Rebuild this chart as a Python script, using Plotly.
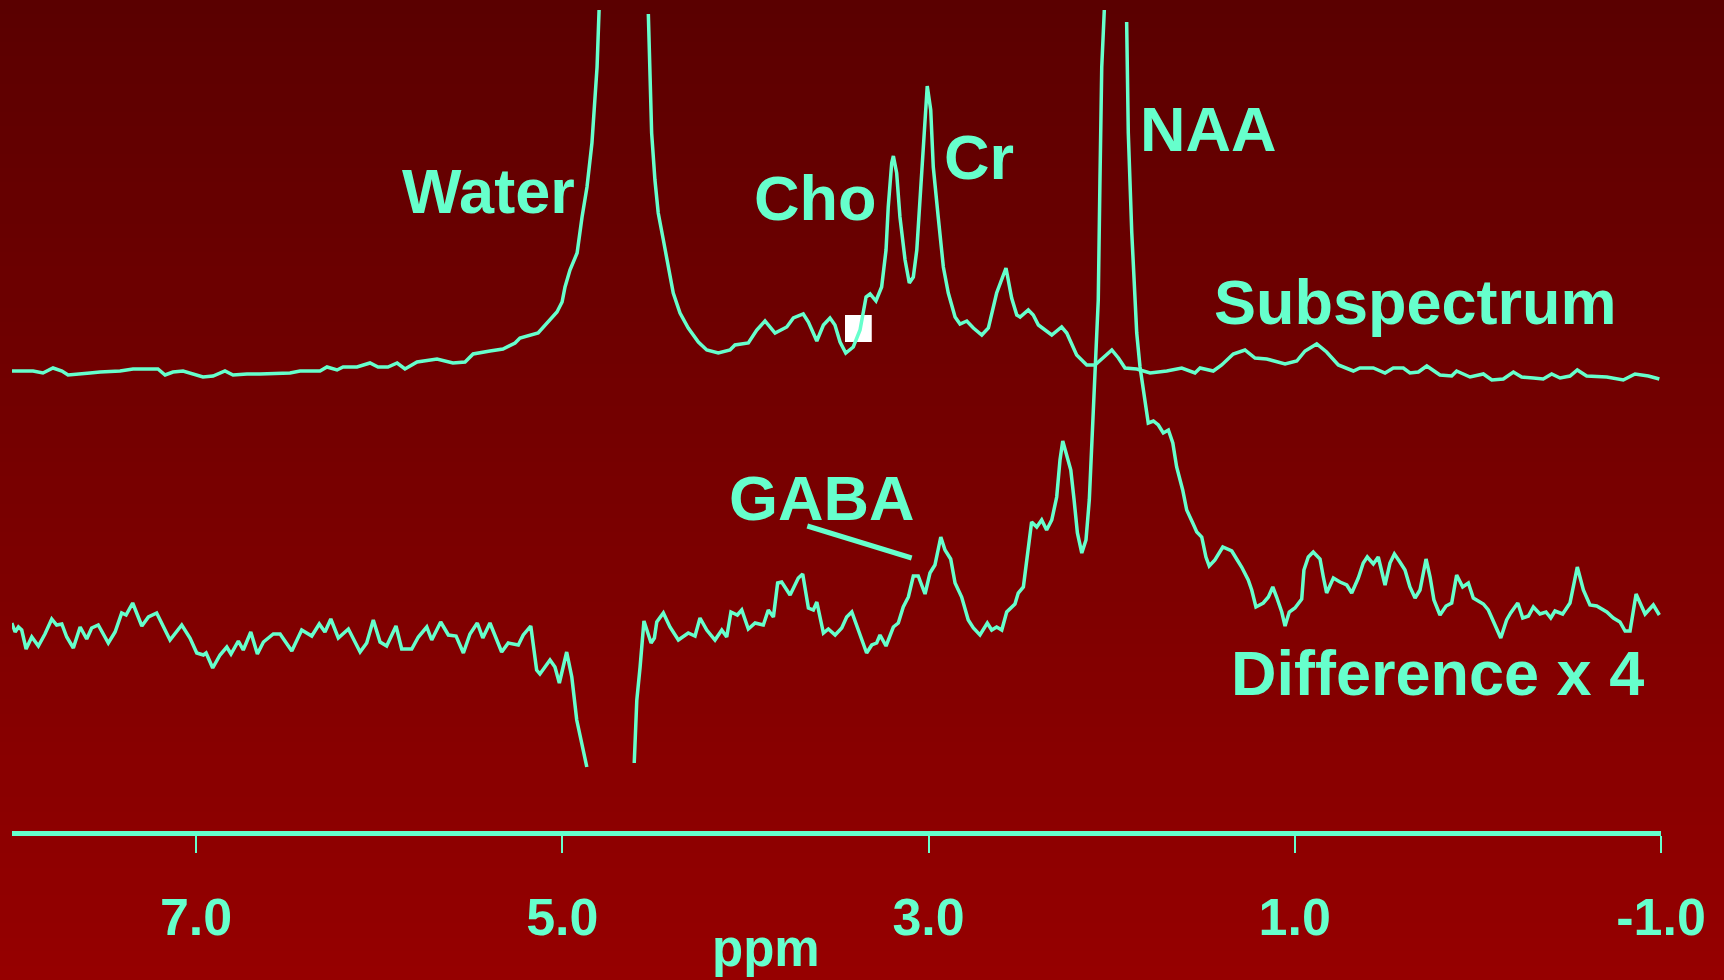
import plotly.graph_objects as go

# ---------------- data (ppm, amplitude in arbitrary units) ----------------
subspectrum_points = [
    (8.006, 0.1), (7.890, 0.1), (7.836, -0.1), (7.781, 0.4), (7.732, 0.1), (7.699, -0.3),
    (7.579, -0.1), (7.524, 0.0), (7.415, 0.1), (7.344, 0.3), (7.268, 0.3), (7.208, 0.3),
    (7.169, -0.3), (7.126, 0.0), (7.071, 0.1), (7.022, -0.2), (6.962, -0.5), (6.907, -0.4),
    (6.842, 0.1), (6.798, -0.3), (6.722, -0.2), (6.651, -0.2), (6.558, -0.1), (6.487, -0.1),
    (6.432, 0.1), (6.323, 0.1), (6.285, 0.5), (6.230, 0.2), (6.197, 0.5), (6.121, 0.5),
    (6.050, 0.9), (6.006, 0.5), (5.952, 0.5), (5.902, 0.9), (5.859, 0.3), (5.793, 1.0),
    (5.684, 1.3), (5.597, 0.9), (5.531, 1.0), (5.487, 1.8), (5.395, 2.1), (5.324, 2.3),
    (5.258, 2.9), (5.231, 3.4), (5.132, 3.9), (5.083, 4.9), (5.029, 6.0), (5.001, 7.0),
    (4.985, 8.5), (4.958, 10.2), (4.919, 11.9), (4.892, 15.5), (4.865, 18.5), (4.838, 22.9),
    (4.821, 27.2), (4.810, 30.5), (4.799, 36.2), (4.665, None),
    (4.530, 35.8), (4.521, 30.5), (4.512, 23.9), (4.494, 19.2), (4.476, 15.9), (4.448, 13.2),
    (4.421, 10.5), (4.394, 7.9), (4.357, 5.9), (4.312, 4.4), (4.257, 3.0), (4.211, 2.2),
    (4.148, 1.9), (4.084, 2.2), (4.057, 2.7), (3.984, 2.9), (3.938, 4.2), (3.893, 5.1),
    (3.838, 3.9), (3.774, 4.5), (3.738, 5.4), (3.684, 5.8), (3.656, 5.0), (3.610, 3.1),
    (3.574, 4.7), (3.538, 5.4), (3.511, 4.7), (3.483, 3.0), (3.452, 1.9), (3.411, 2.5),
    (3.374, 4.2), (3.341, 7.5), (3.319, 7.8), (3.287, 7.1), (3.256, 8.5), (3.232, 12.2),
    (3.220, 16.5), (3.201, 20.9), (3.192, 21.6), (3.174, 19.9), (3.156, 15.5), (3.128, 11.2),
    (3.105, 8.9), (3.083, 9.5), (3.064, 12.2), (3.043, 18.5), (3.025, 24.5), (3.007, 28.6),
    (2.988, 26.2), (2.974, 20.5), (2.947, 15.5), (2.919, 10.5), (2.892, 7.9), (2.855, 5.5),
    (2.828, 4.8), (2.791, 5.1), (2.755, 4.4), (2.709, 3.7), (2.673, 4.4), (2.628, 7.9),
    (2.577, 10.4), (2.546, 7.4), (2.518, 5.7), (2.500, 5.5), (2.455, 6.2), (2.428, 5.7),
    (2.400, 4.7), (2.327, 3.7), (2.273, 4.5), (2.245, 3.9), (2.191, 1.7), (2.136, 0.7),
    (2.091, 0.7), (2.045, 1.4), (1.999, 2.2), (1.963, 1.4), (1.927, 0.4), (1.863, 0.3),
    (1.790, -0.1), (1.699, 0.1), (1.617, 0.4), (1.545, -0.1), (1.517, 0.4), (1.445, 0.1),
    (1.399, 0.7), (1.336, 1.8), (1.272, 2.2), (1.217, 1.4), (1.153, 1.3), (1.053, 0.8),
    (0.989, 1.1), (0.944, 2.1), (0.880, 2.8), (0.826, 2.0), (0.762, 0.7), (0.680, 0.1),
    (0.644, 0.4), (0.571, 0.4), (0.507, -0.1), (0.462, 0.4), (0.407, 0.4), (0.371, -0.1),
    (0.325, 0.0), (0.279, 0.6), (0.207, -0.3), (0.143, -0.4), (0.116, 0.1), (0.043, -0.5),
    (-0.030, -0.2), (-0.076, -0.8), (-0.139, -0.7), (-0.194, 0.0), (-0.239, -0.5), (-0.303, -0.6),
    (-0.357, -0.7), (-0.403, -0.2), (-0.449, -0.6), (-0.503, -0.4), (-0.543, 0.2), (-0.594, -0.4),
    (-0.704, -0.5), (-0.794, -0.8), (-0.858, -0.2), (-0.931, -0.4), (-0.991, -0.7),
]

difference_points = [
    (8.006, 0.9), (7.988, 0.0), (7.970, 0.5), (7.952, 0.2), (7.928, -1.7), (7.897, -0.5),
    (7.861, -1.4), (7.825, -0.2), (7.788, 1.3), (7.761, 0.7), (7.733, 0.8), (7.706, -0.5),
    (7.670, -1.6), (7.633, 0.5), (7.597, -0.7), (7.570, 0.4), (7.534, 0.7), (7.479, -1.1),
    (7.442, 0.0), (7.406, 1.9), (7.382, 1.7), (7.346, 2.9), (7.296, 0.6), (7.260, 1.5),
    (7.215, 1.9), (7.142, -0.8), (7.078, 0.7), (7.033, -0.6), (6.996, -2.1), (6.960, -2.3),
    (6.945, -2.1), (6.909, -3.6), (6.869, -2.3), (6.832, -1.5), (6.809, -2.2), (6.769, -0.9),
    (6.742, -1.8), (6.701, 0.0), (6.665, -2.2), (6.632, -1.0), (6.578, -0.2), (6.541, -0.2),
    (6.477, -1.9), (6.423, 0.2), (6.368, -0.4), (6.327, 0.8), (6.296, 0.0), (6.264, 1.3),
    (6.223, -0.6), (6.168, 0.3), (6.104, -2.0), (6.068, -1.1), (6.032, 1.2), (5.995, -1.0),
    (5.959, -1.4), (5.908, 0.6), (5.877, -1.7), (5.822, -1.7), (5.786, -0.5), (5.740, 0.5),
    (5.713, -0.8), (5.664, 1.0), (5.622, -0.3), (5.580, -0.4), (5.540, -2.1), (5.504, -0.2),
    (5.464, 0.9), (5.434, -0.6), (5.395, 0.9), (5.331, -2.0), (5.295, -1.1), (5.240, -1.3),
    (5.213, -0.3), (5.172, 0.6), (5.140, -3.8), (5.122, -4.2), (5.067, -2.8), (5.040, -3.5),
    (5.016, -5.1), (4.976, -2.0), (4.948, -4.5), (4.921, -8.8), (4.866, -13.5), (4.740, None),
    (4.607, -13.1), (4.593, -6.8), (4.575, -3.5), (4.554, 1.1), (4.515, -1.1), (4.497, -0.6),
    (4.484, 1.0), (4.448, 1.9), (4.412, 0.5), (4.366, -0.8), (4.312, -0.1), (4.275, -0.4),
    (4.248, 1.4), (4.211, 0.2), (4.166, -0.8), (4.129, 0.2), (4.102, -0.5), (4.079, 2.0),
    (4.044, 1.7), (4.020, 2.2), (3.984, 0.3), (3.947, 0.9), (3.902, 0.7), (3.875, 2.2),
    (3.847, 1.5), (3.824, 4.9), (3.802, 5.0), (3.756, 3.7), (3.711, 5.4), (3.687, 5.8),
    (3.656, 2.4), (3.629, 2.2), (3.610, 3.0), (3.574, -0.1), (3.547, 0.3), (3.510, -0.3),
    (3.474, 0.4), (3.447, 1.5), (3.419, 2.0), (3.383, 0.2), (3.338, -2.1), (3.310, -1.3),
    (3.283, -1.1), (3.265, -0.3), (3.232, -1.4), (3.192, 0.5), (3.165, 0.9), (3.138, 2.5),
    (3.110, 3.5), (3.083, 5.6), (3.056, 5.6), (3.019, 3.8), (2.992, 5.9), (2.965, 6.7),
    (2.933, 9.5), (2.910, 8.2), (2.879, 7.3), (2.855, 4.9), (2.819, 3.5), (2.783, 1.2),
    (2.755, 0.4), (2.719, -0.3), (2.679, 0.9), (2.655, 0.2), (2.628, 0.5), (2.600, 0.2),
    (2.573, 2.0), (2.528, 2.8), (2.510, 3.9), (2.482, 4.5), (2.460, 7.5), (2.437, 11.0),
    (2.409, 10.5), (2.382, 11.2), (2.355, 10.2), (2.327, 11.2), (2.300, 13.5), (2.282, 17.2),
    (2.267, 19.1), (2.245, 17.5), (2.223, 16.2), (2.205, 13.2), (2.187, 9.9), (2.163, 7.9),
    (2.140, 9.2), (2.122, 13.2), (2.109, 18.2), (2.100, 23.2), (2.091, 26.5), (2.081, 29.9),
    (2.073, 33.2), (2.064, 44.9), (2.054, 56.5), (2.040, 62.2), (1.980, None),
    (1.918, 61.0), (1.909, 49.9), (1.890, 39.9), (1.878, 34.9), (1.867, 31.2), (1.863, 29.9),
    (1.845, 26.5), (1.823, 23.9), (1.800, 20.9), (1.772, 21.1), (1.745, 20.7), (1.718, 19.9),
    (1.690, 20.2), (1.666, 18.9), (1.645, 16.5), (1.612, 14.2), (1.590, 12.2), (1.557, 10.9),
    (1.535, 10.0), (1.508, 9.5), (1.485, 7.5), (1.467, 6.6), (1.436, 7.2), (1.393, 8.5),
    (1.344, 8.1), (1.314, 7.2), (1.290, 6.5), (1.254, 5.2), (1.235, 4.2), (1.212, 2.5),
    (1.172, 2.9), (1.144, 3.5), (1.120, 4.5), (1.099, 3.5), (1.071, 2.0), (1.053, 0.6),
    (1.030, 2.0), (0.999, 2.4), (0.962, 3.3), (0.950, 6.2), (0.926, 7.5), (0.899, 8.0),
    (0.862, 7.3), (0.844, 5.5), (0.826, 3.9), (0.789, 5.4), (0.753, 5.0), (0.716, 4.7),
    (0.689, 3.9), (0.653, 5.4), (0.626, 6.9), (0.604, 7.5), (0.571, 6.8), (0.544, 7.5),
    (0.507, 4.7), (0.480, 6.9), (0.456, 7.8), (0.426, 7.0), (0.398, 6.2), (0.371, 4.5),
    (0.343, 3.4), (0.316, 4.2), (0.283, 7.3), (0.261, 5.5), (0.240, 3.2), (0.207, 1.7),
    (0.174, 2.6), (0.143, 2.9), (0.116, 5.7), (0.083, 4.5), (0.052, 4.9), (0.025, 3.4),
    (-0.030, 2.8), (-0.057, 2.2), (-0.093, 0.7), (-0.125, -0.6), (-0.157, 1.2), (-0.179, 1.9),
    (-0.218, 2.9), (-0.245, 1.4), (-0.276, 1.6), (-0.303, 2.5), (-0.339, 1.8), (-0.372, 2.0),
    (-0.398, 1.4), (-0.421, 2.1), (-0.463, 1.8), (-0.503, 2.9), (-0.543, 6.5), (-0.576, 4.2),
    (-0.612, 2.7), (-0.649, 2.6), (-0.704, 2.0), (-0.740, 1.4), (-0.776, 1.0), (-0.804, 0.1),
    (-0.831, 0.1), (-0.864, 3.8), (-0.886, 2.9), (-0.913, 1.8), (-0.958, 2.7), (-0.991, 1.7),
]

tick_values = [7, 5, 3, 1, -1]
tick_labels = ["7.0", "5.0", "3.0", "1.0", "-1.0"]
axis_title = "ppm"

# peak labels: (text, ppm, amplitude)
peak_labels = [
    ("Water", 5.405, 64.0),
    ("Cho", 3.620, 63.3),
    ("Cr", 2.727, 67.4),
    ("NAA", 1.471, 70.2),
    ("Subspectrum", 0.341, 52.9),
    ("GABA", 3.579, 33.3),
    ("Difference x 4", 0.218, 15.8),
]

# ---------------- styling / layout ----------------
CYAN = "#66FFCC"
FONT = "Liberation Sans, Arial, Helvetica, sans-serif"
W, H = 1724, 980
ML, MR, MT, MB = 12, 63, 0, 149
PLOT_H = H - MT - MB
Y_TOP = 83.1
SUB_OFFSET = 45.9
DIFF_OFFSET = 19.9

sub_x = [p for p, _ in subspectrum_points]
sub_y = [None if a is None else a + SUB_OFFSET for _, a in subspectrum_points]
dif_x = [p for p, _ in difference_points]
dif_y = [None if a is None else a + DIFF_OFFSET for _, a in difference_points]

fig = go.Figure()
for xs, ys, name in [(sub_x, sub_y, "Subspectrum"), (dif_x, dif_y, "Difference x 4")]:
    fig.add_trace(go.Scatter(
        x=xs, y=ys, mode="lines", name=name, connectgaps=False,
        line=dict(color=CYAN, width=3.5), hoverinfo="skip", showlegend=False,
    ))

# vertical background gradient (dark red at top -> brighter red at bottom)
shapes = []
N = 70
for i in range(N):
    p0 = H * i / N
    p1 = H * (i + 1) / N
    v = 90 + 60 * ((p0 + p1) / 2) / H
    shapes.append(dict(
        type="rect", xref="paper", yref="paper", layer="below",
        x0=-0.05, x1=1.1,
        y0=(PLOT_H + MT - (p1 + 0.6)) / PLOT_H, y1=(PLOT_H + MT - (p0 - 0.6)) / PLOT_H,
        fillcolor=f"rgb({round(v)},0,0)", line=dict(width=0),
    ))
# small white marker square
shapes.append(dict(type="rect", xref="x", yref="y", layer="below",
                   x0=3.456, x1=3.310, y0=48.9, y1=51.6,
                   fillcolor="white", line=dict(width=0)))
# GABA pointer line
shapes.append(dict(type="line", xref="x", yref="y", layer="above",
                   x0=3.662, y0=30.5, x1=3.092, y1=27.3,
                   line=dict(color=CYAN, width=5)))

annotations = []
for text, px, py in peak_labels:
    annotations.append(dict(
        text=text, x=px, y=py, xref="x", yref="y", showarrow=False,
        xanchor="center", yanchor="middle",
        font=dict(family=FONT, size=63, color=CYAN, weight="bold"),
    ))
annotations.append(dict(
    text=axis_title, x=3.887, y=(PLOT_H + MT - 948) / PLOT_H, xref="x", yref="paper",
    showarrow=False, xanchor="center", yanchor="middle",
    font=dict(family=FONT, size=51, color=CYAN, weight="bold"),
))

fig.update_layout(
    width=W, height=H, autosize=False,
    margin=dict(l=ML, r=MR, t=MT, b=MB, pad=0),
    paper_bgcolor="#780000", plot_bgcolor="rgba(0,0,0,0)",
    shapes=shapes, annotations=annotations, showlegend=False,
    xaxis=dict(
        range=[8.005, -1.0], showgrid=False, zeroline=False,
        showline=True, linecolor=CYAN, linewidth=5,
        ticks="outside", ticklen=17, tickwidth=2, tickcolor=CYAN,
        tickmode="array", tickvals=tick_values, ticktext=tick_labels,
        tickfont=dict(family=FONT, size=52, color=CYAN, weight="bold"),
        ticklabelstandoff=20, fixedrange=True,
    ),
    yaxis=dict(range=[0, Y_TOP], visible=False, showgrid=False, zeroline=False, fixedrange=True),
)

fig.write_html("out.html", config={"displayModeBar": False},
               post_script="document.body.style.margin='0';document.body.style.overflow='hidden';")
